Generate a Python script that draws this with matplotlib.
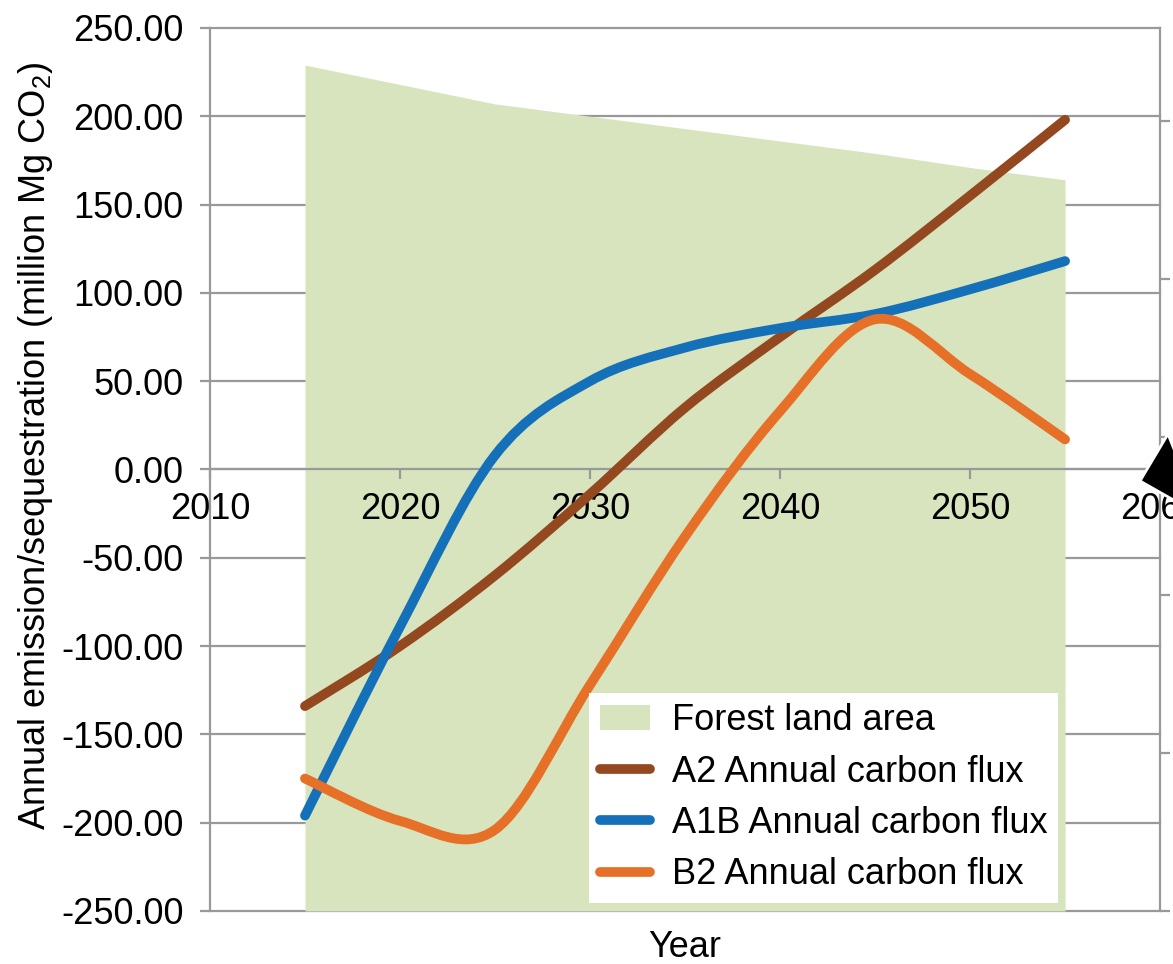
import numpy as np
import matplotlib
matplotlib.use("Agg")
import matplotlib.pyplot as plt
from matplotlib.path import Path
from matplotlib.patches import PathPatch, Patch, Polygon
from matplotlib.lines import Line2D

plt.rcParams['font.family'] = ['Liberation Sans', 'DejaVu Sans']
plt.rcParams['mathtext.fontset'] = 'custom'
plt.rcParams['mathtext.rm'] = 'Liberation Sans'

# data (5-year steps)
years = [2015, 2020, 2025, 2030, 2035, 2040, 2045, 2050, 2055]
forest_area = [229, 218, 207, 200, 193, 186, 179, 171, 164]
a2_flux = [-134, -100, -60, -14, 35, 75, 113, 155, 198]
a1b_flux = [-196, -89, 8, 50, 69, 80, 88, 102, 118]
b2_flux = [-175, -199, -204, -122, -38, 33, 85, 54, 17]

series = [
    ("A2 Annual carbon flux", a2_flux, "#944820"),
    ("A1B Annual carbon flux", a1b_flux, "#1570BA"),
    ("B2 Annual carbon flux", b2_flux, "#E67028"),
]
area_color = "#D7E4BD"
grid_color = "#999999"
fs = 26


def smooth_path(xs, ys):
    # Excel-style smoothed line: cubic Bezier segments (Catmull-Rom tangents)
    pts = np.column_stack([xs, ys]).astype(float)
    n = len(pts)
    verts = [pts[0]]
    codes = [Path.MOVETO]
    for i in range(n - 1):
        p0 = pts[i - 1] if i > 0 else pts[i]
        p3 = pts[i + 2] if i + 2 < n else pts[i + 1]
        c1 = pts[i] + (pts[i + 1] - p0) / 6
        c2 = pts[i + 1] - (p3 - pts[i]) / 6
        verts += [c1, c2, pts[i + 1]]
        codes += [Path.CURVE4] * 3
    return Path(verts, codes)


fig = plt.figure(figsize=(11.73, 9.64), dpi=100)
ax = fig.add_axes([0.179, 0.055, 0.81, 0.916])

ax.set_xlim(2010, 2060)
ax.set_ylim(-250, 250)

yticks = np.arange(-250, 251, 50)
# horizontal gridlines under the area
for v in yticks:
    ax.axhline(v, color=grid_color, linewidth=1.6, zorder=1, clip_on=False)

ax.fill_between(years, -250, forest_area, color=area_color, linewidth=0,
                zorder=1.5)

for label, vals, color in series:
    patch = PathPatch(smooth_path(years, vals), fill=False, edgecolor=color,
                      linewidth=7, capstyle='round', joinstyle='round', zorder=3)
    ax.add_patch(patch)

# axes styling
ax.set_axisbelow(False)
ax.spines['top'].set_visible(False)
ax.spines['right'].set_visible(False)
ax.spines['left'].set_color(grid_color)
ax.spines['left'].set_linewidth(1.6)
ax.spines['bottom'].set_position(('data', 0))
ax.spines['bottom'].set_color(grid_color)
ax.spines['bottom'].set_linewidth(1.6)

ax.set_xticks(np.arange(2010, 2061, 10))
ax.tick_params(axis='x', direction='out', length=7, width=1.6, color=grid_color,
               labelsize=fs, pad=9)
ax.set_yticks(yticks)
ax.set_yticklabels([f"{v:.2f}" for v in yticks])
ax.tick_params(axis='y', direction='out', length=7, width=1.6, color=grid_color,
               labelsize=fs, pad=12)

ax.set_ylabel("Annual emission/sequestration (million Mg CO$_2$)", fontsize=fs)
ax.yaxis.label.set_va('center')
ax.yaxis.set_label_coords(-0.184, 0.527)
ax.set_xlabel("Year", fontsize=fs)
ax.xaxis.set_label_coords(0.5, -0.022)

# secondary axis on the right (unlabelled ticks)
ax2 = ax.twinx()
ax2.set_ylim(0, 883 / 158)
ax2.set_yticks(range(6))
ax2.set_yticklabels([])
for side in ['top', 'left', 'bottom']:
    ax2.spines[side].set_visible(False)
ax2.spines['right'].set_color(grid_color)
ax2.spines['right'].set_linewidth(1.6)
ax2.tick_params(axis='y', direction='out', length=7, width=1.6, color=grid_color)

handles = [Patch(facecolor=area_color, edgecolor='none', label="Forest land area")]
for label, vals, color in series:
    handles.append(Line2D([], [], color=color, linewidth=7, solid_capstyle='round',
                          label=label))
leg = ax2.legend(handles=handles, loc='lower right', bbox_to_anchor=(0.893, 0.009),
                 borderaxespad=0, fontsize=fs, frameon=True, fancybox=False,
                 framealpha=1, edgecolor='none', handlelength=1.4,
                 handletextpad=0.6, labelspacing=0.45, borderpad=0.3)
leg.set_zorder(5)

# black arrow head at the right edge (partly cropped in the source)
arrow = Polygon([(1140 / 1173, 1 - 481 / 964), (1168 / 1173, 1 - 434 / 964),
                 (1200 / 1173, 1 - 515 / 964)], closed=True,
                transform=fig.transFigure, facecolor='black', edgecolor='white',
                linewidth=2)
fig.patches.append(arrow)

fig.savefig("out.png", dpi=100)
